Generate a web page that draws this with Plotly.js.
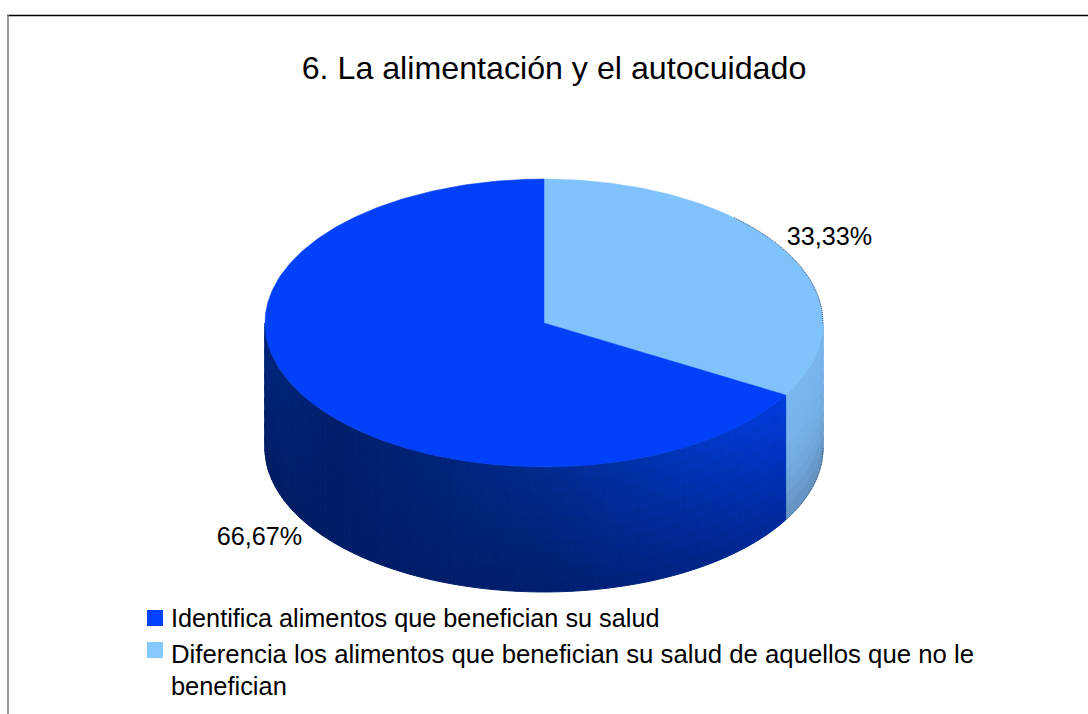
<!DOCTYPE html>
<html><head><meta charset="utf-8">
<script src="https://cdn.plot.ly/plotly-3.0.1.min.js"></script>
<style>html,body{margin:0;padding:0;background:#fff}</style></head>
<body><div id="chart" style="width:1088px;height:714px"></div>
<script>
const categories = ["Identifica alimentos que benefician su salud",
  "Diferencia los alimentos que benefician su salud de aquellos que no le<br>benefician"];
const seriesValues = [66.67, 33.33];
const valueLabels = ["66,67%", "33,33%"];
const topColors = ["#0040f8", "#80c2fb"];
const swatchColors = ["#0040ff", "#86c9ff"];
const drawOrder = [1, 0];           // clockwise from 12 o'clock

// pie geometry, in axis units (pie radius = 1)
const W = 1088, H = 714, PX = 279;
const cx = 544, cy = 323;
const tilt = 0.516, depth = 0.448;
const FONT = "Liberation Sans, Arial, sans-serif";
const toX = p => (p - cx) / PX, toY = p => (cy - p) / PX;
const lerp = (a, b, t) => a + (b - a) * t;
const stops = (arr, t) => {
  for (let i = 1; i < arr.length; i++) if (t <= arr[i][0]) {
    const s = (t - arr[i-1][0]) / (arr[i][0] - arr[i-1][0]);
    return arr[i-1][1].map((c, k) => lerp(c, arr[i][1][k], s));
  }
  return arr[arr.length - 1][1];
};
const sideTop = [
  [[0,[0,38,125]],[.12,[0,30,105]],[.5,[0,42,140]],[.75,[0,54,190]],[1,[0,62,235]]],
  [[0,[128,190,245]],[1,[122,182,238]]]];
const sideBot = [
  [[0,[0,30,100]],[.5,[0,30,108]],[.8,[0,36,135]],[1,[0,44,165]]],
  [[0,[105,155,200]],[1,[98,145,190]]]];
const sideCurve = [1, 2.2];

const traces = [];
const ex = a => Math.sin(a), ey = a => tilt * Math.cos(a);
const rgb = c => `rgb(${c.map(Math.round).join(",")})`;

let start = 0, arcs = [];
drawOrder.forEach(i => {
  const end = start + seriesValues[i] / 100 * 2 * Math.PI;
  arcs.push({i, start, end});
  const a0 = Math.max(start, Math.PI / 2), a1 = Math.min(end, 3 * Math.PI / 2);
  if (a1 > a0) {
    const cols = Math.max(6, Math.round((a1 - a0) * 40)), rows = 10;
    for (let c = 0; c < cols; c++) for (let r = 0; r < rows; r++) {
      const b0 = lerp(a0, a1, c / cols), b1 = lerp(a0, a1, (c + 1) / cols);
      const v0 = r / rows, v1 = (r + 1) / rows;
      const t = (ex(lerp(b0, b1, .5)) + 1) / 2;
      const mix = Math.pow((v0 + v1) / 2, sideCurve[i]);
      const col = stops(sideTop[i], t).map((q, k) => lerp(q, stops(sideBot[i], t)[k], mix));
      const xs = [ex(b0), ex(b1), ex(b1), ex(b0), ex(b0)];
      const ys = [ey(b0) - depth * v0, ey(b1) - depth * v0, ey(b1) - depth * v1, ey(b0) - depth * v1, ey(b0) - depth * v0];
      traces.push({type: "scatter", mode: "lines", x: xs, y: ys, fill: "toself", fillcolor: rgb(col),
        line: {color: rgb(col), width: 1}, hoverinfo: "skip", showlegend: false});
    }
  }
  start = end;
});
// top face of each slice
arcs.forEach(({i, start, end}) => {
  const xs = [0], ys = [0];
  const n = Math.round((end - start) * 60);
  for (let k = 0; k <= n; k++) { const a = lerp(start, end, k / n); xs.push(ex(a)); ys.push(ey(a)); }
  xs.push(0); ys.push(0);
  traces.push({type: "scatter", mode: "lines", x: xs, y: ys, fill: "toself", fillcolor: topColors[i],
    line: {color: topColors[i], width: 0.5}, name: categories[i], hoverinfo: "name", showlegend: false});
});
// thin dotted rim on the pale slice
const rimX = [], rimY = [], rimBX = [], rimBY = [];
const pale = arcs[0];
for (let k = 0; k <= 40; k++) { const a = lerp(pale.start + 0.75, Math.PI / 2, k / 40); rimX.push(ex(a)); rimY.push(ey(a)); }
for (let k = 0; k <= 20; k++) { const a = lerp(Math.PI / 2, pale.end, k / 20); rimBX.push(ex(a)); rimBY.push(ey(a) - depth); }
[[rimX, rimY], [rimBX, rimBY]].forEach(([x, y]) => traces.push({type: "scatter", mode: "lines", x, y,
  line: {color: "#4a5a70", width: 1, dash: "1px,1px"}, hoverinfo: "skip", showlegend: false}));
// legend swatches
const swatchPx = [[155, 618], [155, 650]];
categories.forEach((name, i) => traces.push({type: "scatter", mode: "markers", x: [toX(swatchPx[i][0])], y: [toY(swatchPx[i][1])], name,
  marker: {symbol: "square", size: 16, color: swatchColors[i]}, hoverinfo: "name", showlegend: false}));
// value labels
const labelX = [toX(259.5), toX(829.5)], labelY = [toY(539), toY(239)];
traces.push({type: "scatter", mode: "text", x: labelX, y: labelY, text: valueLabels, textposition: "middle center",
  textfont: {family: FONT, size: 25.2, color: "#000"}, hoverinfo: "skip", showlegend: false});

// legend text, one annotation per printed line
const legendLines = categories.flatMap(c => c.split("<br>"));
const legendLineY = [618, 653.5, 685.5];
const legendLineSize = [25.25, 25.75, 25.4];

const layout = {
  width: W, height: H, margin: {l: 0, r: 0, t: 0, b: 0}, paper_bgcolor: "#fff", plot_bgcolor: "#fff",
  showlegend: false,
  title: {text: "6. La alimentación y el autocuidado", x: 554 / W, xanchor: "center", y: 1 - 67.5 / H, yanchor: "middle",
    font: {family: FONT, size: 32.2, color: "#000"}},
  xaxis: {range: [-cx / PX, (W - cx) / PX], visible: false, fixedrange: true},
  yaxis: {range: [(cy - H) / PX, cy / PX], visible: false, fixedrange: true},
  annotations: legendLines.map((text, i) => ({text, xref: "paper", yref: "paper", x: 171 / W, y: 1 - legendLineY[i] / H,
    xanchor: "left", yanchor: "middle", showarrow: false, borderpad: 0, xshift: -1,
    font: {family: FONT, size: legendLineSize[i], color: "#000"}})),
  shapes: [
    {type: "line", xref: "paper", yref: "paper", x0: 7 / W, x1: 1, y0: 1 - 15.5 / H, y1: 1 - 15.5 / H, line: {color: "#000", width: 1.3}},
    {type: "line", xref: "paper", yref: "paper", x0: 8 / W, x1: 8 / W, y0: 1 - 15 / H, y1: 0, line: {color: "#808080", width: 1.6}}
  ]
};
Plotly.newPlot("chart", traces, layout, {displayModeBar: false, staticPlot: true});
</script></body></html>
